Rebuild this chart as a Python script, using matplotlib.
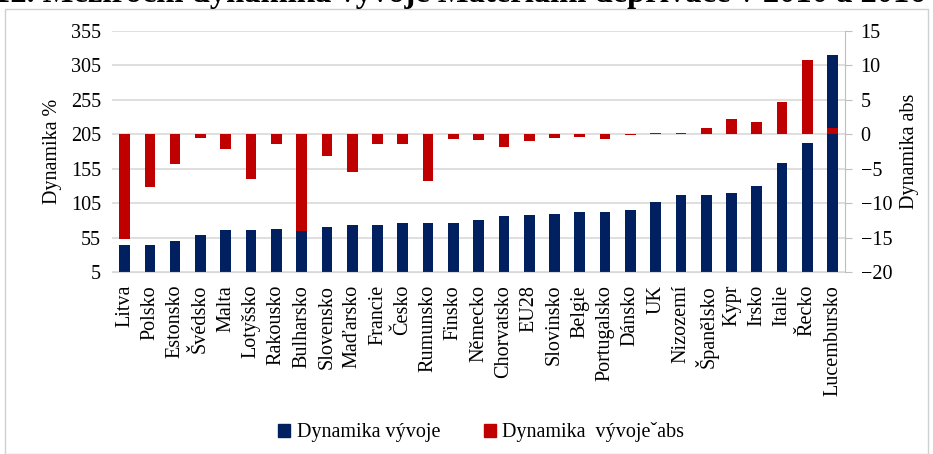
import matplotlib
matplotlib.use("Agg")
import matplotlib.pyplot as plt
from matplotlib.patches import Rectangle
import numpy as np

countries = ["Litva", "Polsko", "Estonsko", "Švédsko", "Malta", "Lotyšsko", "Rakousko",
             "Bulharsko", "Slovensko", "Maďarsko", "Francie", "Česko", "Rumunsko", "Finsko",
             "Německo", "Chorvatsko", "EU28", "Slovinsko", "Belgie", "Portugalsko", "Dánsko",
             "UK", "Nizozemí", "Španělsko", "Kypr", "Irsko", "Italie", "Řecko", "Lucembursko"]
# dynamika v % (levá osa)
dyn_pct = [44.6, 44.6, 50.8, 59.1, 66.8, 66.8, 68.2, 65.3, 70.7, 74.0, 74.0, 76.9, 76.9, 76.9,
           80.8, 86.6, 88.1, 89.6, 92.4, 92.4, 95.3, 107.0, 117.1, 117.1, 120.0, 130.0, 163.0,
           192.0, 320.0]
# absolutní změna (pravá osa)
dyn_abs = [-15.1, -7.6, -4.3, -0.57, -2.1, -6.5, -1.4, -14.0, -3.2, -5.45, -1.4, -1.4, -6.76,
           -0.67, -0.8, -1.9, -0.96, -0.52, -0.38, -0.67, -0.15, 0.2, 0.25, 0.88, 2.3, 1.75,
           4.65, 10.8, 0.97]

BLUE = "#002060"
RED = "#c00000"
GRID = "#d9d9d9"
plt.rcParams["font.family"] = ["Liberation Serif", "DejaVu Serif"]
FS = 14.5

fig = plt.figure(figsize=(9.33, 4.54), dpi=100)
fig.patches.append(Rectangle((0.005, 0.0), 0.99, 0.980, transform=fig.transFigure,
                             fill=False, edgecolor="#d0d0d0", lw=1.0))
# nadpis je v horní části oříznutý
fig.text(-0.006, 0.9955, "12. Meziroční dynamika vývoje Materiální deprivace v 2010 a 2016",
         fontsize=23.5, fontweight="bold", ha="left", va="baseline")

ax = fig.add_axes([0.120, 0.400, 0.786, 0.532])
x = np.arange(len(countries))
base = 5
ax.bar(x, [v - base for v in dyn_pct], bottom=base, width=0.42, color=BLUE, zorder=2)
ax.set_ylim(5, 355)
ax.set_yticks(range(5, 356, 50))
ax.set_xlim(-0.5, len(countries) - 0.5)
ax.set_xticks(x)
ax.set_xticklabels(countries, rotation=90, fontsize=FS)
ax.tick_params(axis="y", length=0, labelsize=FS, pad=8)
ax.tick_params(axis="x", length=0, pad=9)
ax.grid(axis="y", color=GRID, lw=1.2, zorder=0)
ax.set_axisbelow(True)
for s in ["left", "top", "right"]:
    ax.spines[s].set_visible(False)
ax.spines["bottom"].set_color(GRID)
ax.set_ylabel("Dynamika %", fontsize=FS, labelpad=6)

ax2 = ax.twinx()
ax2.bar(x, dyn_abs, width=0.42, color=RED, zorder=3)
ax2.set_ylim(-20, 15)
ax2.set_yticks(range(-20, 16, 5))
ax2.tick_params(axis="y", labelsize=FS, color="#bfbfbf", length=5, pad=6)
for s in ["left", "top", "bottom"]:
    ax2.spines[s].set_visible(False)
ax2.spines["right"].set_color("#bfbfbf")
ax2.set_ylabel("Dynamika abs", fontsize=FS, labelpad=6)

handles = [Rectangle((0, 0), 1, 1, color=BLUE), Rectangle((0, 0), 1, 1, color=RED)]
fig.legend(handles, ["Dynamika vývoje", "Dynamika  vývojeˇabs"], loc="center",
           bbox_to_anchor=(0.516, 0.048), ncol=2, frameon=False, fontsize=FS,
           handlelength=0.6, handleheight=0.6, handletextpad=0.3, columnspacing=2.2)

fig.savefig("out.png", dpi=100)
